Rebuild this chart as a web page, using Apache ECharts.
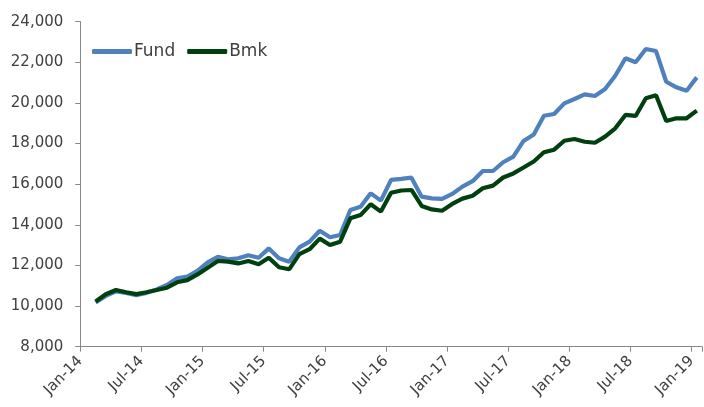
<!DOCTYPE html>
<html>
<head>
<meta charset="utf-8">
<script src="https://cdn.jsdelivr.net/npm/echarts@6/dist/echarts.min.js"></script>
<style>html,body{margin:0;padding:0;background:#fff}#c{width:704px;height:407px}</style>
</head>
<body>
<div id="c"></div>
<script>
// Monthly values, Feb-14 .. Jan-19
const months = ['Feb-14','Mar-14','Apr-14','May-14','Jun-14','Jul-14','Aug-14','Sep-14','Oct-14','Nov-14','Dec-14',
 'Jan-15','Feb-15','Mar-15','Apr-15','May-15','Jun-15','Jul-15','Aug-15','Sep-15','Oct-15','Nov-15','Dec-15',
 'Jan-16','Feb-16','Mar-16','Apr-16','May-16','Jun-16','Jul-16','Aug-16','Sep-16','Oct-16','Nov-16','Dec-16',
 'Jan-17','Feb-17','Mar-17','Apr-17','May-17','Jun-17','Jul-17','Aug-17','Sep-17','Oct-17','Nov-17','Dec-17',
 'Jan-18','Feb-18','Mar-18','Apr-18','May-18','Jun-18','Jul-18','Aug-18','Sep-18','Oct-18','Nov-18','Dec-18',
 'Jan-19'];
const fund = [10180,10500,10720,10650,10540,10650,10820,11040,11370,11450,11730,
 12150,12430,12300,12350,12500,12380,12840,12350,12185,12890,13170,13710,
 13385,13500,14730,14890,15550,15190,16210,16260,16320,15385,15300,15280,
 15520,15880,16150,16650,16650,17080,17360,18130,18450,19370,19455,19980,
 20195,20425,20340,20690,21340,22200,22000,22655,22555,21045,20770,20600,
 21260];
const bmk = [10230,10580,10790,10680,10590,10680,10790,10905,11170,11280,11560,
 11890,12220,12185,12100,12220,12055,12380,11910,11810,12560,12800,13320,
 13005,13170,14320,14480,15010,14650,15580,15690,15715,14930,14760,14695,
 15030,15290,15430,15800,15930,16330,16530,16820,17120,17570,17700,18140,
 18225,18090,18040,18340,18750,19410,19360,20230,20375,19110,19245,19245,
 19620];
const tickLabels = ['Jan-14','Jul-14','Jan-15','Jul-15','Jan-16','Jul-16','Jan-17','Jul-17','Jan-18','Jul-18','Jan-19'];
const seriesNames = ['Fund','Bmk'];

// month position: months since Jan-14, plotted mid-month
const pos = months.map((m, k) => k + 1.5);
const toPairs = arr => arr.map((v, k) => [pos[k], v]);

const textColor = '#404040';
const axisColor = '#878787';
const fundColor = '#4F81BD';
const bmkColor = '#00400F';
const chart = echarts.init(document.getElementById('c'), null, {renderer: 'canvas'});
chart.setOption({
  animation: false,
  backgroundColor: '#ffffff',
  legend: {
    left: 87, top: 38,
    icon: 'roundRect',
    itemWidth: 40, itemHeight: 5, itemGap: 12,
    textStyle: {fontFamily: 'DejaVu Sans', fontSize: 17, color: textColor, padding: [0, 0, 0, -3]},
    data: seriesNames
  },
  grid: {left: 80.3, top: 21.7, bottom: 60.3, right: -2.8, containLabel: false},
  xAxis: {
    type: 'value', min: 0, max: 61, interval: 6,
    axisLine: {show: true, lineStyle: {color: axisColor, width: 1}},
    axisTick: {show: true, length: 5, lineStyle: {color: axisColor}},
    splitLine: {show: false},
    axisLabel: {
      rotate: 45, margin: 12,
      fontFamily: 'DejaVu Sans', fontSize: 15, color: textColor,
      formatter: v => (v % 6 === 0 ? (tickLabels[v / 6] || '') : '')
    }
  },
  yAxis: {
    type: 'value', min: 8000, max: 24000, interval: 2000,
    axisLine: {show: true, lineStyle: {color: axisColor, width: 1}},
    axisTick: {show: true, length: 5, lineStyle: {color: axisColor}},
    splitLine: {show: false},
    axisLabel: {
      margin: 17, fontFamily: 'DejaVu Sans', fontSize: 15, color: textColor,
      formatter: v => v.toLocaleString('en-US')
    }
  },
  series: [
    {name: seriesNames[0], type: 'line', data: toPairs(fund), symbol: 'none',
     lineStyle: {color: fundColor, width: 4.2}, itemStyle: {color: fundColor}, z: 2},
    {name: seriesNames[1], type: 'line', data: toPairs(bmk), symbol: 'none',
     lineStyle: {color: bmkColor, width: 4.2}, itemStyle: {color: bmkColor}, z: 3}
  ]
});
</script>
</body>
</html>
